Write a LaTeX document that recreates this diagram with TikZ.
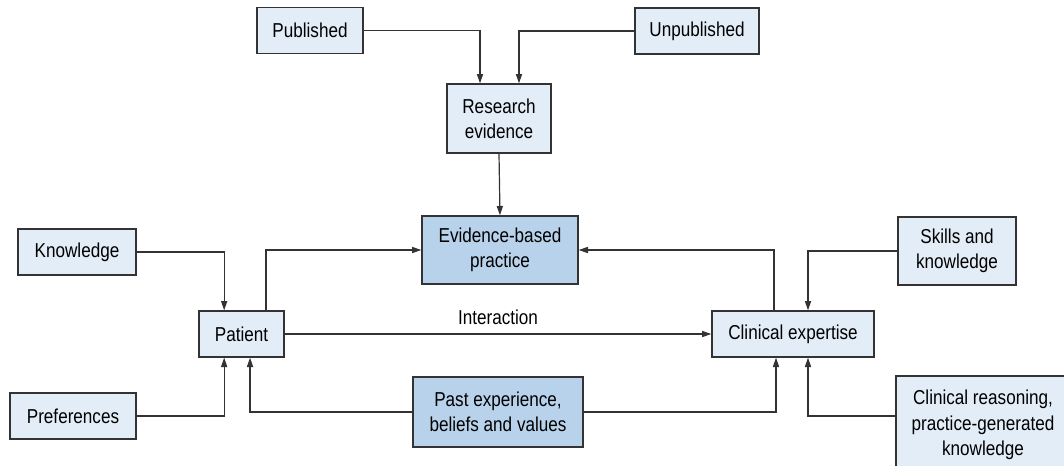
\documentclass[tikz,border=0pt]{standalone}
\usepackage{fontspec}
\setmainfont{Liberation Sans}[FakeStretch=0.85]
\usetikzlibrary{arrows.meta,positioning}
\definecolor{inkline}{HTML}{333333}
\definecolor{palebox}{HTML}{E3EDF8}
\definecolor{deepbox}{HTML}{B8D2EB}
\tikzset{box/.style={draw=inkline,fill=palebox,line width=1pt,align=center,
  inner sep=0pt,minimum height=34.5pt,font=\fontsize{15.1}{19}\selectfont},
  keybox/.style={box,fill=deepbox},
  arrow/.style={-{Triangle[length=7pt,width=4.6pt]},line width=0.9pt,draw=inkline}}
\begin{document}
\begin{tikzpicture}[x=0.75pt,y=-0.75pt]
\clip (0,0) rectangle (1064,465);
% sources of research evidence
\node[box,minimum width=79.5pt] (pub) at (310,30.5){Published};
\node[box,minimum width=93pt] (unpub) at (697,31){Unpublished};
\node[box,minimum width=78pt,minimum height=51.75pt] (res) at (499,118.5){Research\\evidence};
\node[keybox,minimum width=117pt,minimum height=51pt] (ebp) at (500,250){Evidence-based\\practice};
% patient side
\node[box,minimum width=88.5pt] (know) at (77,252){Knowledge};
\node[box,minimum width=63.75pt] (pat) at (241.5,334){Patient};
\node[box,minimum width=94.5pt] (pref) at (73,416){Preferences};
% clinician side
\node[box,minimum width=88.5pt,minimum height=51pt] (skill) at (957,251){Skills and\\knowledge};
\node[box,minimum width=121.5pt] (clin) at (793,334){Clinical expertise};
\node[box,minimum width=130.5pt,minimum height=73.5pt] (reason) at (983,425){Clinical reasoning,\\practice-generated\\knowledge};
\node[keybox,minimum width=127.5pt,minimum height=52.5pt] (past) at (498,412){Past experience,\\beliefs and values};
% connectors
\draw[arrow] (pub.east) -| ([xshift=-14.25pt]res.north);
\draw[arrow] (unpub.west) -| ([xshift=15pt]res.north);
\draw[arrow] (res.south) -- (ebp.north);
\draw[arrow] (know.east) -| ([xshift=-13pt]pat.north);
\draw[arrow] ([xshift=18.4pt]pat.north) |- (ebp.west);
\draw[arrow] ([xshift=-14.25pt]clin.north) |- (ebp.east);
\draw[arrow] (skill.west) -| ([xshift=11.25pt]clin.north);
\draw[arrow] (pref.east) -| ([xshift=-13pt]pat.south);
\draw[arrow] (past.west) -| ([xshift=6.4pt]pat.south);
\draw[arrow] (past.east) -| ([xshift=-12.75pt]clin.south);
\draw[arrow] ([yshift=6.75pt]reason.west) -| ([xshift=11.25pt]clin.south);
\draw[arrow] (pat.east) -- node[above=3pt,font=\fontsize{15.1}{19}\selectfont]{Interaction} (clin.west);
\end{tikzpicture}
\end{document}
